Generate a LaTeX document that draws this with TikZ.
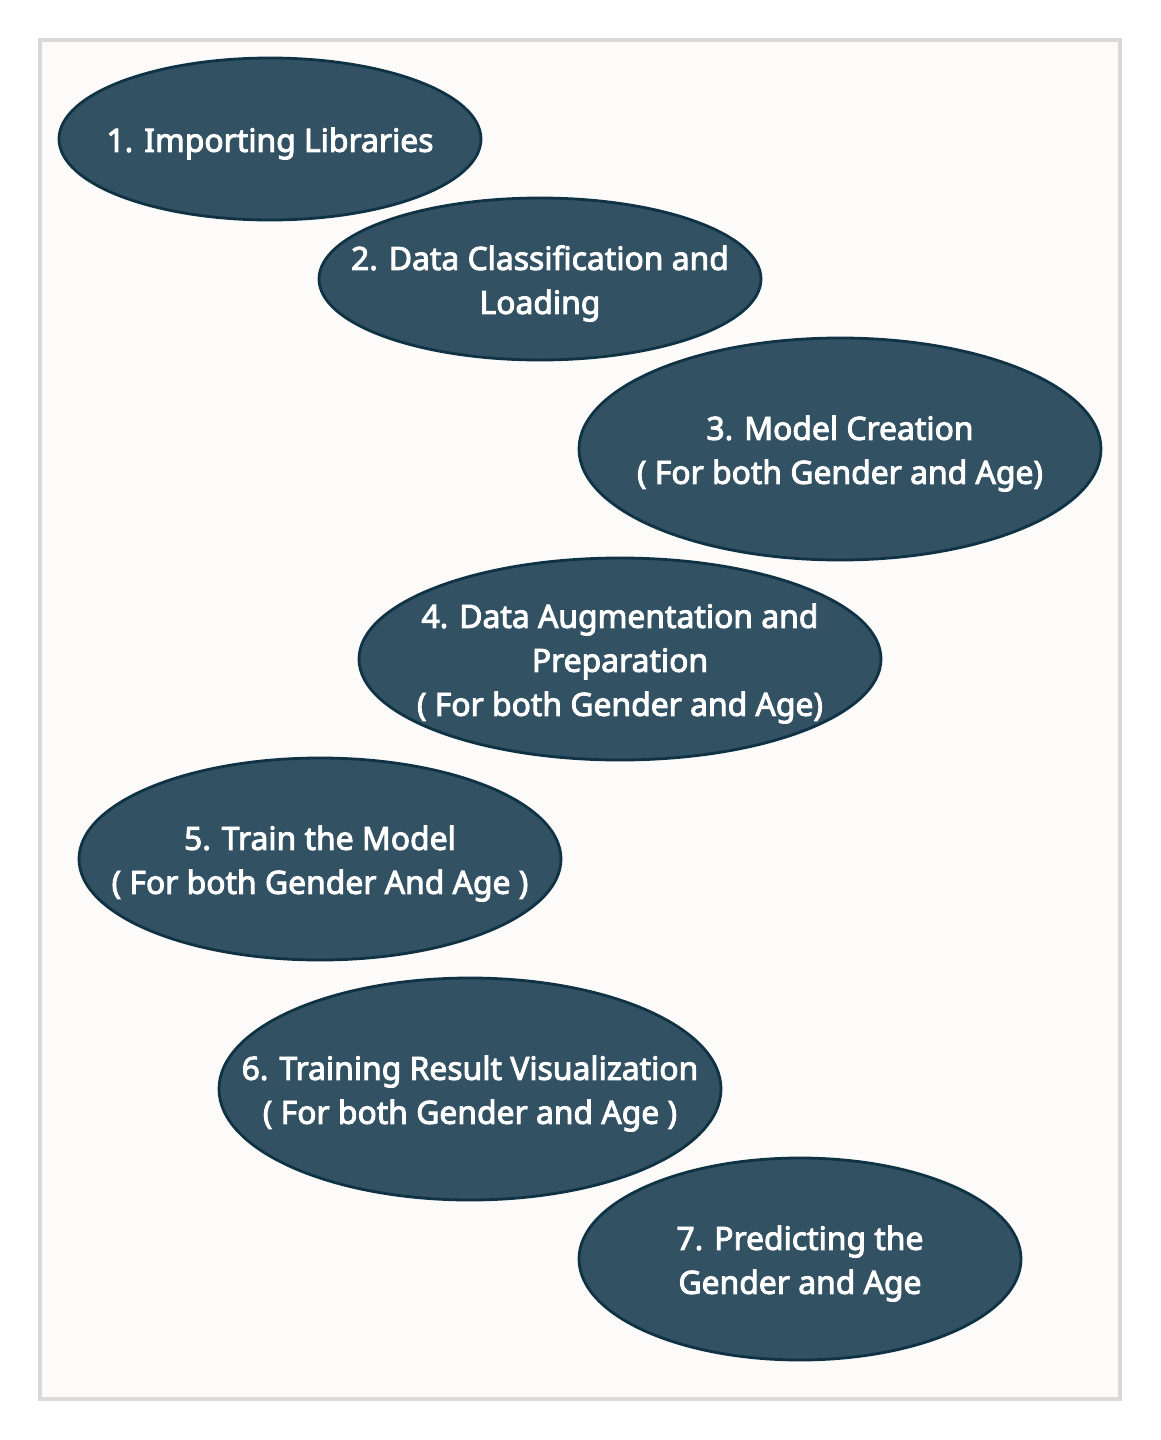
\documentclass[tikz,border=0pt]{standalone}
\usepackage{fontspec}
\newfontfamily\stagefont[FakeStretch=0.995, FakeBold=3]{Noto Sans}
\usetikzlibrary{shapes.geometric}
\definecolor{bgfill}{HTML}{FCFBFA}
\definecolor{bgline}{HTML}{D9D9D9}
\definecolor{elfill}{HTML}{325163}
\definecolor{elline}{HTML}{0F3344}
\tikzset{
  stage/.style={ellipse, draw=elline, line width=2.8pt, fill=elfill, inner sep=0pt},
  stagetext/.style={text=white, font=\stagefont\fontsize{32}{44}\selectfont,
    align=center, inner sep=0pt},
}
\begin{document}
\begin{tikzpicture}[x=1pt,y=-1pt]
\useasboundingbox (0,0) rectangle (1161,1440);
\draw[bgline, line width=3.5pt, fill=bgfill] (40,40) rectangle (1120,1399);
\newcommand{\stageat}[6]{%
  \node[stage, minimum width=#4pt, minimum height=#5pt] (#1) at (#2,#3) {};
  \node[stagetext] (#1t) at ([yshift=-4.5pt]#1.center) {#6};}
\stageat{s1}{270}{139}{422}{162}{1. Importing Libraries}
\stageat{s2}{540}{279}{442}{162}{2. Data Classification and\\Loading}
\stageat{s3}{840}{449}{522}{222}{3. Model Creation\\( For both Gender and Age)}
\stageat{s4}{620}{659}{522}{202}{4. Data Augmentation and\\Preparation\\( For both Gender and Age)}
\stageat{s5}{320}{859}{482}{202}{5. Train the Model\\( For both Gender And Age )}
\stageat{s6}{470}{1089}{502}{222}{6. Training Result Visualization\\( For both Gender and Age )}
\stageat{s7}{800}{1259}{442}{202}{7. Predicting the\\Gender and Age}
\end{tikzpicture}
\end{document}
